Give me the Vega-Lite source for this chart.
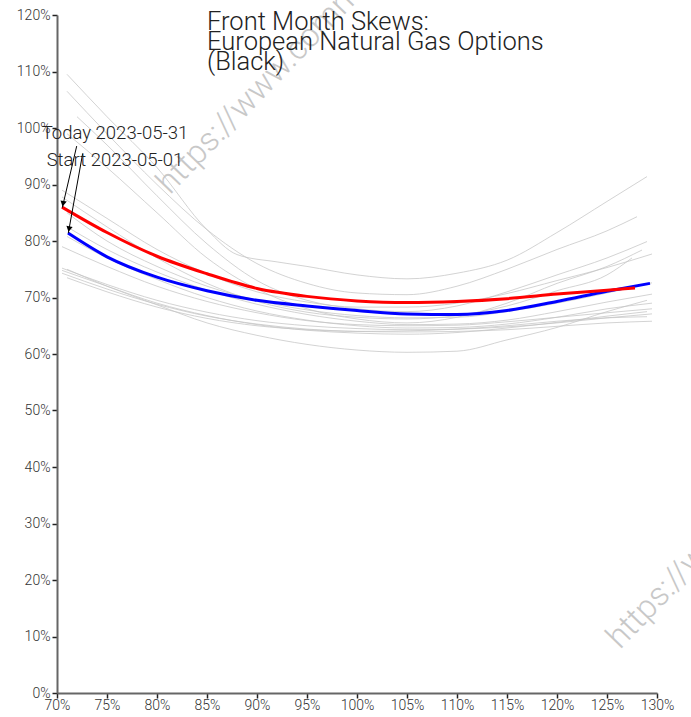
{
  "$schema": "https://vega.github.io/schema/vega-lite/v6.json",
  "autosize": {"type": "none"},
  "width": 600,
  "height": 678,
  "padding": {"left": 57, "top": 15, "right": 34, "bottom": 24},
  "background": "white",
  "config": {"view": {"stroke": null}, "font": "Roboto"},
  "datasets": {
    "hist": [
      {"s": "g1", "m": 71, "v": 109.5}, {"s": "g1", "m": 75, "v": 102}, {"s": "g1", "m": 80, "v": 93}, {"s": "g1", "m": 85, "v": 82}, {"s": "g1", "m": 88, "v": 77.6}, {"s": "g1", "m": 92, "v": 76.3}, {"s": "g1", "m": 95, "v": 75.5}, {"s": "g1", "m": 100, "v": 74}, {"s": "g1", "m": 105, "v": 73.3}, {"s": "g1", "m": 110, "v": 74.3}, {"s": "g1", "m": 115, "v": 76.6}, {"s": "g1", "m": 120, "v": 81.5}, {"s": "g1", "m": 125, "v": 87}, {"s": "g1", "m": 129, "v": 91.4},
      {"s": "g2", "m": 71, "v": 106.5}, {"s": "g2", "m": 75, "v": 99}, {"s": "g2", "m": 80, "v": 90}, {"s": "g2", "m": 85, "v": 82}, {"s": "g2", "m": 90, "v": 76}, {"s": "g2", "m": 95, "v": 72.5}, {"s": "g2", "m": 100, "v": 70.8}, {"s": "g2", "m": 105, "v": 70.5}, {"s": "g2", "m": 110, "v": 72}, {"s": "g2", "m": 115, "v": 75}, {"s": "g2", "m": 120, "v": 78.5}, {"s": "g2", "m": 125, "v": 81.8}, {"s": "g2", "m": 128, "v": 84.3},
      {"s": "g3", "m": 71, "v": 75}, {"s": "g3", "m": 75, "v": 72}, {"s": "g3", "m": 80, "v": 68.7}, {"s": "g3", "m": 85, "v": 65.5}, {"s": "g3", "m": 90, "v": 63.3}, {"s": "g3", "m": 95, "v": 61.7}, {"s": "g3", "m": 100, "v": 60.7}, {"s": "g3", "m": 105, "v": 60.3}, {"s": "g3", "m": 110, "v": 60.5}, {"s": "g3", "m": 115, "v": 62.5}, {"s": "g3", "m": 120, "v": 64.7}, {"s": "g3", "m": 125, "v": 67.5}, {"s": "g3", "m": 129, "v": 69.5},
      {"s": "g4", "m": 72, "v": 102}, {"s": "g4", "m": 75, "v": 97}, {"s": "g4", "m": 80, "v": 88}, {"s": "g4", "m": 85, "v": 79.5}, {"s": "g4", "m": 90, "v": 73}, {"s": "g4", "m": 95, "v": 69.5}, {"s": "g4", "m": 100, "v": 68}, {"s": "g4", "m": 105, "v": 67.5}, {"s": "g4", "m": 110, "v": 68.5}, {"s": "g4", "m": 115, "v": 71}, {"s": "g4", "m": 120, "v": 74}, {"s": "g4", "m": 125, "v": 77}, {"s": "g4", "m": 129, "v": 79.9},
      {"s": "g5", "m": 71, "v": 99}, {"s": "g5", "m": 75, "v": 93}, {"s": "g5", "m": 80, "v": 85}, {"s": "g5", "m": 85, "v": 77}, {"s": "g5", "m": 90, "v": 71.5}, {"s": "g5", "m": 95, "v": 68}, {"s": "g5", "m": 100, "v": 66.2}, {"s": "g5", "m": 105, "v": 65.5}, {"s": "g5", "m": 110, "v": 66.5}, {"s": "g5", "m": 115, "v": 69}, {"s": "g5", "m": 120, "v": 72.5}, {"s": "g5", "m": 125, "v": 75.5}, {"s": "g5", "m": 128.5, "v": 78.4},
      {"s": "g6", "m": 70.5, "v": 89}, {"s": "g6", "m": 75, "v": 84}, {"s": "g6", "m": 80, "v": 78.5}, {"s": "g6", "m": 85, "v": 74.2}, {"s": "g6", "m": 90, "v": 71}, {"s": "g6", "m": 95, "v": 69.2}, {"s": "g6", "m": 100, "v": 68.3}, {"s": "g6", "m": 105, "v": 68.3}, {"s": "g6", "m": 110, "v": 69}, {"s": "g6", "m": 115, "v": 70.7}, {"s": "g6", "m": 120, "v": 73}, {"s": "g6", "m": 125, "v": 75.3}, {"s": "g6", "m": 129.5, "v": 77.7},
      {"s": "g7", "m": 70.5, "v": 87.8}, {"s": "g7", "m": 75, "v": 82.5}, {"s": "g7", "m": 80, "v": 77}, {"s": "g7", "m": 85, "v": 72.5}, {"s": "g7", "m": 90, "v": 69.3}, {"s": "g7", "m": 95, "v": 67.4}, {"s": "g7", "m": 100, "v": 66.5}, {"s": "g7", "m": 105, "v": 66.2}, {"s": "g7", "m": 110, "v": 66.8}, {"s": "g7", "m": 115, "v": 68.5}, {"s": "g7", "m": 120, "v": 71.2}, {"s": "g7", "m": 125, "v": 74}, {"s": "g7", "m": 127.5, "v": 77},
      {"s": "g8", "m": 71, "v": 85}, {"s": "g8", "m": 75, "v": 80}, {"s": "g8", "m": 80, "v": 75.5}, {"s": "g8", "m": 85, "v": 72}, {"s": "g8", "m": 90, "v": 69.5}, {"s": "g8", "m": 95, "v": 67.8}, {"s": "g8", "m": 100, "v": 66.8}, {"s": "g8", "m": 105, "v": 66.4}, {"s": "g8", "m": 110, "v": 66.5}, {"s": "g8", "m": 115, "v": 67.5}, {"s": "g8", "m": 120, "v": 69}, {"s": "g8", "m": 125, "v": 70.8}, {"s": "g8", "m": 129.5, "v": 72.6},
      {"s": "g9", "m": 71, "v": 82.5}, {"s": "g9", "m": 75, "v": 78.5}, {"s": "g9", "m": 80, "v": 74.5}, {"s": "g9", "m": 85, "v": 71.3}, {"s": "g9", "m": 90, "v": 68.8}, {"s": "g9", "m": 95, "v": 67}, {"s": "g9", "m": 100, "v": 65.8}, {"s": "g9", "m": 105, "v": 65.2}, {"s": "g9", "m": 110, "v": 65.3}, {"s": "g9", "m": 115, "v": 66}, {"s": "g9", "m": 120, "v": 67.5}, {"s": "g9", "m": 125, "v": 69.2}, {"s": "g9", "m": 129.5, "v": 70.6},
      {"s": "g10", "m": 71, "v": 80.8}, {"s": "g10", "m": 75, "v": 77}, {"s": "g10", "m": 80, "v": 73.2}, {"s": "g10", "m": 85, "v": 70}, {"s": "g10", "m": 90, "v": 67.6}, {"s": "g10", "m": 95, "v": 66}, {"s": "g10", "m": 100, "v": 65}, {"s": "g10", "m": 105, "v": 64.6}, {"s": "g10", "m": 110, "v": 64.7}, {"s": "g10", "m": 115, "v": 65.3}, {"s": "g10", "m": 120, "v": 66.5}, {"s": "g10", "m": 125, "v": 68}, {"s": "g10", "m": 129.5, "v": 69},
      {"s": "g11", "m": 70.5, "v": 79}, {"s": "g11", "m": 75, "v": 75.5}, {"s": "g11", "m": 80, "v": 72}, {"s": "g11", "m": 85, "v": 69.3}, {"s": "g11", "m": 90, "v": 67.3}, {"s": "g11", "m": 95, "v": 65.9}, {"s": "g11", "m": 100, "v": 65.2}, {"s": "g11", "m": 105, "v": 65}, {"s": "g11", "m": 110, "v": 65.1}, {"s": "g11", "m": 115, "v": 65.7}, {"s": "g11", "m": 120, "v": 66.5}, {"s": "g11", "m": 125, "v": 67.3}, {"s": "g11", "m": 129.5, "v": 68},
      {"s": "g12", "m": 70.5, "v": 75.2}, {"s": "g12", "m": 75, "v": 72.3}, {"s": "g12", "m": 80, "v": 69.5}, {"s": "g12", "m": 85, "v": 67.4}, {"s": "g12", "m": 90, "v": 65.9}, {"s": "g12", "m": 95, "v": 65}, {"s": "g12", "m": 100, "v": 64.5}, {"s": "g12", "m": 105, "v": 64.3}, {"s": "g12", "m": 110, "v": 64.4}, {"s": "g12", "m": 115, "v": 64.8}, {"s": "g12", "m": 120, "v": 65.5}, {"s": "g12", "m": 125, "v": 66.4}, {"s": "g12", "m": 129.5, "v": 67.1},
      {"s": "g13", "m": 70.5, "v": 74.3}, {"s": "g13", "m": 75, "v": 71.5}, {"s": "g13", "m": 80, "v": 68.8}, {"s": "g13", "m": 85, "v": 66.7}, {"s": "g13", "m": 90, "v": 65.3}, {"s": "g13", "m": 95, "v": 64.4}, {"s": "g13", "m": 100, "v": 64}, {"s": "g13", "m": 105, "v": 63.9}, {"s": "g13", "m": 110, "v": 64}, {"s": "g13", "m": 115, "v": 64.3}, {"s": "g13", "m": 120, "v": 64.9}, {"s": "g13", "m": 125, "v": 65.5}, {"s": "g13", "m": 129.5, "v": 65.8},
      {"s": "g14", "m": 71, "v": 73.5}, {"s": "g14", "m": 75, "v": 71}, {"s": "g14", "m": 80, "v": 68.3}, {"s": "g14", "m": 85, "v": 66.3}, {"s": "g14", "m": 90, "v": 65}, {"s": "g14", "m": 95, "v": 64.3}, {"s": "g14", "m": 100, "v": 64}, {"s": "g14", "m": 105, "v": 64.1}, {"s": "g14", "m": 110, "v": 64.4}, {"s": "g14", "m": 115, "v": 65}, {"s": "g14", "m": 120, "v": 65.8}, {"s": "g14", "m": 125, "v": 66.4}, {"s": "g14", "m": 129, "v": 66.6},
      {"s": "g15", "m": 70.5, "v": 74.8}, {"s": "g15", "m": 75, "v": 72}, {"s": "g15", "m": 80, "v": 69}, {"s": "g15", "m": 85, "v": 66.8}, {"s": "g15", "m": 90, "v": 65.2}, {"s": "g15", "m": 95, "v": 64.2}, {"s": "g15", "m": 100, "v": 63.7}, {"s": "g15", "m": 105, "v": 63.5}, {"s": "g15", "m": 110, "v": 63.8}, {"s": "g15", "m": 115, "v": 64.6}, {"s": "g15", "m": 120, "v": 65.6}, {"s": "g15", "m": 125, "v": 66.7}, {"s": "g15", "m": 129, "v": 67.5}
    ],
    "start": [
      {"m": 71.1, "v": 81.4}, {"m": 75, "v": 77.2}, {"m": 80, "v": 73.6}, {"m": 85, "v": 71.2}, {"m": 90, "v": 69.5}, {"m": 95, "v": 68.5}, {"m": 100, "v": 67.7}, {"m": 105, "v": 67.1}, {"m": 110, "v": 67.0}, {"m": 115, "v": 67.7}, {"m": 120, "v": 69.3}, {"m": 125, "v": 71.1}, {"m": 129.3, "v": 72.5}
    ],
    "today": [
      {"m": 70.5, "v": 86.0}, {"m": 75, "v": 81.5}, {"m": 80, "v": 77.3}, {"m": 85, "v": 74.2}, {"m": 90, "v": 71.6}, {"m": 95, "v": 70.2}, {"m": 100, "v": 69.4}, {"m": 105, "v": 69.1}, {"m": 110, "v": 69.3}, {"m": 115, "v": 69.8}, {"m": 120, "v": 70.6}, {"m": 125, "v": 71.3}, {"m": 127.8, "v": 71.7}
    ],
    "arrows": [
      {"name": "Today", "m": 71.97, "v": 96.8, "m2": 70.53, "v2": 85.9, "hm": 70.61, "hv": 86.6},
      {"name": "Start", "m": 72.57, "v": 95.5, "m2": 71.13, "v2": 81.4, "hm": 71.2, "hv": 82.1}
    ],
    "labels": [
      {"label": "Today 2023-05-31", "m": 75.8, "v": 99.1},
      {"label": "Start 2023-05-01", "m": 75.8, "v": 94.4}
    ]
  },
  "encoding": {
    "x": {"field": "m", "type": "quantitative",
      "scale": {"domain": [70, 130], "nice": false, "zero": false},
      "axis": {"values": [70, 75, 80, 85, 90, 95, 100, 105, 110, 115, 120, 125, 130], "labelExpr": "datum.value + '%'", "title": null, "grid": false,
        "domainColor": "#666", "domainWidth": 2, "tickColor": "#222", "tickSize": 5, "tickWidth": 1.5,
        "labelFont": "Roboto", "labelFontSize": 14, "labelFontWeight": 300, "labelColor": "#333", "labelPadding": 0, "labelFlush": false, "labelOverlap": false}},
    "y": {"field": "v", "type": "quantitative",
      "scale": {"domain": [0, 120], "nice": false, "zero": false},
      "axis": {"values": [0, 10, 20, 30, 40, 50, 60, 70, 80, 90, 100, 110, 120], "labelExpr": "datum.value + '%'", "title": null, "grid": false,
        "domainColor": "#666", "domainWidth": 2, "tickColor": "#222", "tickSize": 5, "tickWidth": 1.5,
        "labelFont": "Roboto", "labelFontSize": 14, "labelFontWeight": 300, "labelColor": "#333", "labelPadding": 2, "labelFlush": false, "labelOverlap": false}}
  },
  "layer": [
    {
      "data": {"values": [{"t": "https://www.commo", "m": 81.3, "v": 88.1}, {"t": "https://www.commo", "m": 126.3, "v": 7.6}]},
      "mark": {"type": "text", "angle": -46, "align": "left", "baseline": "alphabetic", "fontSize": 33, "font": "Roboto", "fontWeight": 300, "color": "#bbbbbb", "opacity": 0.8},
      "encoding": {"text": {"field": "t"}}
    },
    {
      "data": {"name": "hist"},
      "mark": {"type": "line", "interpolate": "monotone", "stroke": "#c4c4c4", "strokeWidth": 1, "opacity": 0.75},
      "encoding": {"detail": {"field": "s"}}
    },
    {
      "data": {"name": "start"},
      "mark": {"type": "line", "interpolate": "monotone", "stroke": "#0000ff", "strokeWidth": 3}
    },
    {
      "data": {"name": "today"},
      "mark": {"type": "line", "interpolate": "monotone", "stroke": "#ff0000", "strokeWidth": 3}
    },
    {
      "data": {"name": "arrows"},
      "mark": {"type": "rule", "color": "#000", "strokeWidth": 1},
      "encoding": {"x2": {"field": "m2"}, "y2": {"field": "v2"}}
    },
    {
      "data": {"name": "arrows"},
      "mark": {"type": "point", "shape": "triangle-down", "filled": true, "color": "#000", "size": 40, "angle": 11, "opacity": 1},
      "encoding": {"x": {"field": "hm", "type": "quantitative"}, "y": {"field": "hv", "type": "quantitative"}}
    },
    {
      "data": {"name": "labels"},
      "mark": {"type": "text", "align": "center", "baseline": "middle", "fontSize": 18.5, "font": "Roboto", "fontWeight": 300, "color": "#222"},
      "encoding": {"text": {"field": "label"}}
    },
    {
      "data": {"values": [{"m": 85, "v": 120.9}]},
      "mark": {"type": "text", "align": "left", "baseline": "top", "fontSize": 25.5, "font": "Roboto", "fontWeight": 300, "color": "#222", "lineHeight": 20, "lineBreak": "\n",
        "text": "Front Month Skews:\nEuropean Natural Gas Options\n(Black)"}
    }
  ]
}
